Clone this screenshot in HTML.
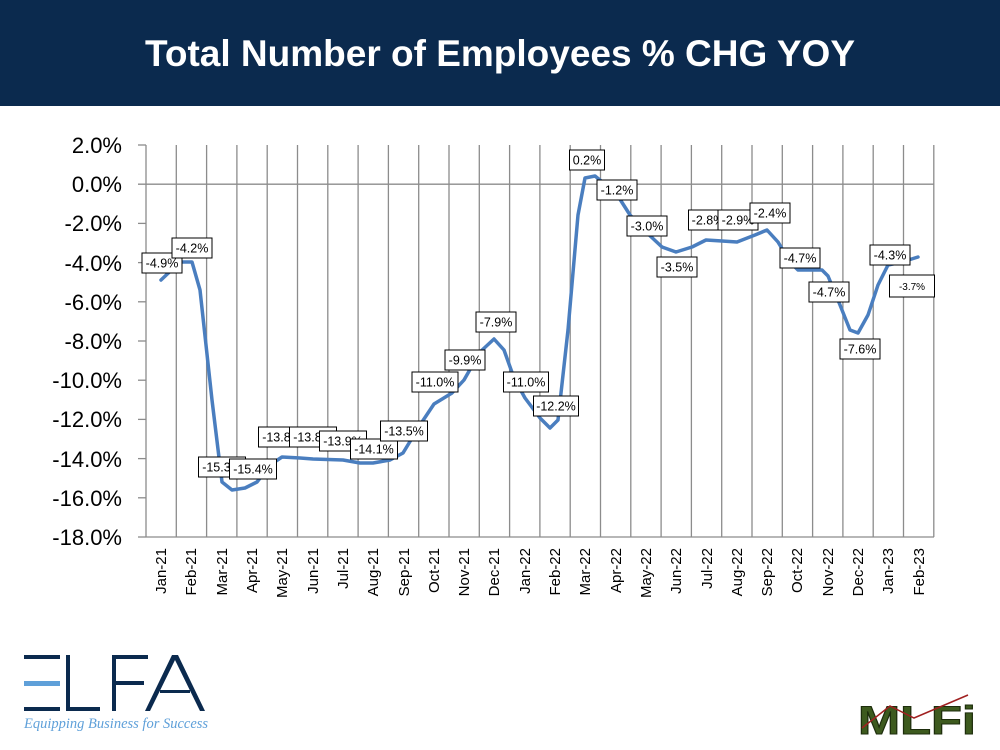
<!DOCTYPE html>
<html><head><meta charset="utf-8"><style>
html,body{margin:0;padding:0;background:#fff;}
svg{display:block;font-family:"Liberation Sans",sans-serif;}
</style></head><body>
<svg width="1000" height="750" viewBox="0 0 1000 750" xmlns="http://www.w3.org/2000/svg">
<rect x="0" y="0" width="1000" height="106" fill="#0b2a4e"/>
<text x="500" y="66" text-anchor="middle" fill="#fff" font-size="37" font-weight="bold">Total Number of Employees % CHG YOY</text>
<g stroke="#8c8c8c" stroke-width="1.3">
<line x1="146" y1="145" x2="146" y2="537"/>
<line x1="138" y1="184.2" x2="934" y2="184.2"/>
<line x1="146" y1="537" x2="934" y2="537"/>
<line x1="176.3" y1="145" x2="176.3" y2="537"/><line x1="206.6" y1="145" x2="206.6" y2="537"/><line x1="236.9" y1="145" x2="236.9" y2="537"/><line x1="267.2" y1="145" x2="267.2" y2="537"/><line x1="297.5" y1="145" x2="297.5" y2="537"/><line x1="327.8" y1="145" x2="327.8" y2="537"/><line x1="358.1" y1="145" x2="358.1" y2="537"/><line x1="388.4" y1="145" x2="388.4" y2="537"/><line x1="418.7" y1="145" x2="418.7" y2="537"/><line x1="449" y1="145" x2="449" y2="537"/><line x1="479.3" y1="145" x2="479.3" y2="537"/><line x1="509.6" y1="145" x2="509.6" y2="537"/><line x1="539.9" y1="145" x2="539.9" y2="537"/><line x1="570.2" y1="145" x2="570.2" y2="537"/><line x1="600.5" y1="145" x2="600.5" y2="537"/><line x1="630.8" y1="145" x2="630.8" y2="537"/><line x1="661.1" y1="145" x2="661.1" y2="537"/><line x1="691.4" y1="145" x2="691.4" y2="537"/><line x1="721.7" y1="145" x2="721.7" y2="537"/><line x1="752" y1="145" x2="752" y2="537"/><line x1="782.3" y1="145" x2="782.3" y2="537"/><line x1="812.6" y1="145" x2="812.6" y2="537"/><line x1="842.9" y1="145" x2="842.9" y2="537"/><line x1="873.2" y1="145" x2="873.2" y2="537"/><line x1="903.5" y1="145" x2="903.5" y2="537"/><line x1="933.8" y1="145" x2="933.8" y2="537"/>
<line x1="138" y1="145" x2="146" y2="145"/><line x1="138" y1="223.4" x2="146" y2="223.4"/><line x1="138" y1="262.6" x2="146" y2="262.6"/><line x1="138" y1="301.8" x2="146" y2="301.8"/><line x1="138" y1="341" x2="146" y2="341"/><line x1="138" y1="380.2" x2="146" y2="380.2"/><line x1="138" y1="419.4" x2="146" y2="419.4"/><line x1="138" y1="458.6" x2="146" y2="458.6"/><line x1="138" y1="497.8" x2="146" y2="497.8"/><line x1="138" y1="537" x2="146" y2="537"/>
</g>
<g font-size="22" text-anchor="end" fill="#000">
<text x="122" y="153">2.0%</text><text x="122" y="192">0.0%</text><text x="122" y="231">-2.0%</text><text x="122" y="271">-4.0%</text><text x="122" y="310">-6.0%</text><text x="122" y="349">-8.0%</text><text x="122" y="388">-10.0%</text><text x="122" y="427">-12.0%</text><text x="122" y="467">-14.0%</text><text x="122" y="506">-16.0%</text><text x="122" y="545">-18.0%</text>
</g>
<g font-size="15" text-anchor="end" fill="#000">
<text transform="translate(166,548) rotate(-90)">Jan-21</text>
<text transform="translate(196,548) rotate(-90)">Feb-21</text>
<text transform="translate(227,548) rotate(-90)">Mar-21</text>
<text transform="translate(257,548) rotate(-90)">Apr-21</text>
<text transform="translate(287,548) rotate(-90)">May-21</text>
<text transform="translate(318,548) rotate(-90)">Jun-21</text>
<text transform="translate(348,548) rotate(-90)">Jul-21</text>
<text transform="translate(378,548) rotate(-90)">Aug-21</text>
<text transform="translate(409,548) rotate(-90)">Sep-21</text>
<text transform="translate(439,548) rotate(-90)">Oct-21</text>
<text transform="translate(469,548) rotate(-90)">Nov-21</text>
<text transform="translate(499,548) rotate(-90)">Dec-21</text>
<text transform="translate(530,548) rotate(-90)">Jan-22</text>
<text transform="translate(560,548) rotate(-90)">Feb-22</text>
<text transform="translate(590,548) rotate(-90)">Mar-22</text>
<text transform="translate(621,548) rotate(-90)">Apr-22</text>
<text transform="translate(651,548) rotate(-90)">May-22</text>
<text transform="translate(681,548) rotate(-90)">Jun-22</text>
<text transform="translate(712,548) rotate(-90)">Jul-22</text>
<text transform="translate(742,548) rotate(-90)">Aug-22</text>
<text transform="translate(772,548) rotate(-90)">Sep-22</text>
<text transform="translate(802,548) rotate(-90)">Oct-22</text>
<text transform="translate(833,548) rotate(-90)">Nov-22</text>
<text transform="translate(863,548) rotate(-90)">Dec-22</text>
<text transform="translate(893,548) rotate(-90)">Jan-23</text>
<text transform="translate(924,548) rotate(-90)">Feb-23</text>
</g>
<polyline fill="none" stroke="#4a7ebf" stroke-width="3.5" stroke-linejoin="round" stroke-linecap="round" points="161,280 180,262 192,262 200,290 212,400 222,482 232,490 245,488 257,482 270,465 282,457 300,458 313,459 343,460 360,463 373,463 390,460 403,453 420,425 434,404 452,393 464,380 480,352 494,339 504,350 514,378 525,398 540,418 550,428 558,420 568,330 578,215 585,178 595,176 606,185 616,193 630,215 646,232 662,247 676,252 692,247 706,240 722,241 737,242 755,235 767,230 778,242 790,262 798,270 812,270 822,270 828,276 840,305 850,330 858,333 868,315 878,285 888,265 902,262 918,257"/>
<g font-size="12.5" text-anchor="middle" fill="#000">
<rect x="142" y="253" width="40" height="20" fill="#fff" stroke="#000"/><text x="162" y="267.5">-4.9%</text>
<rect x="172" y="238" width="40" height="20" fill="#fff" stroke="#000"/><text x="192" y="252.5">-4.2%</text>
<rect x="198.5" y="457" width="47" height="20" fill="#fff" stroke="#000"/><text x="222" y="471.5">-15.3%</text>
<rect x="229.5" y="459" width="47" height="20" fill="#fff" stroke="#000"/><text x="253" y="473.5">-15.4%</text>
<rect x="258.5" y="427" width="47" height="20" fill="#fff" stroke="#000"/><text x="282" y="441.5">-13.8%</text>
<rect x="289.5" y="427" width="47" height="20" fill="#fff" stroke="#000"/><text x="313" y="441.5">-13.8%</text>
<rect x="319.5" y="431" width="47" height="20" fill="#fff" stroke="#000"/><text x="343" y="445.5">-13.9%</text>
<rect x="350.5" y="439" width="47" height="20" fill="#fff" stroke="#000"/><text x="374" y="453.5">-14.1%</text>
<rect x="380.5" y="421" width="47" height="20" fill="#fff" stroke="#000"/><text x="404" y="435.5">-13.5%</text>
<rect x="412" y="372" width="46" height="20" fill="#fff" stroke="#000"/><text x="435" y="386.5">-11.0%</text>
<rect x="445" y="350" width="40" height="20" fill="#fff" stroke="#000"/><text x="465" y="364.5">-9.9%</text>
<rect x="476" y="312" width="40" height="20" fill="#fff" stroke="#000"/><text x="496" y="326.5">-7.9%</text>
<rect x="503.5" y="372" width="45" height="20" fill="#fff" stroke="#000"/><text x="526" y="386.5">-11.0%</text>
<rect x="533.5" y="396" width="45" height="20" fill="#fff" stroke="#000"/><text x="556" y="410.5">-12.2%</text>
<rect x="569.5" y="150" width="35" height="20" fill="#fff" stroke="#000"/><text x="587" y="164.5">0.2%</text>
<rect x="597" y="180" width="40" height="20" fill="#fff" stroke="#000"/><text x="617" y="194.5">-1.2%</text>
<rect x="627" y="216" width="40" height="20" fill="#fff" stroke="#000"/><text x="647" y="230.5">-3.0%</text>
<rect x="657" y="257" width="40" height="20" fill="#fff" stroke="#000"/><text x="677" y="271.5">-3.5%</text>
<rect x="688.5" y="210" width="39" height="20" fill="#fff" stroke="#000"/><text x="708" y="224.5">-2.8%</text>
<rect x="718" y="210" width="40" height="20" fill="#fff" stroke="#000"/><text x="738" y="224.5">-2.9%</text>
<rect x="750" y="203" width="40" height="20" fill="#fff" stroke="#000"/><text x="770" y="217.5">-2.4%</text>
<rect x="780" y="248" width="40" height="20" fill="#fff" stroke="#000"/><text x="800" y="262.5">-4.7%</text>
<rect x="809" y="282" width="40" height="20" fill="#fff" stroke="#000"/><text x="829" y="296.5">-4.7%</text>
<rect x="840" y="339" width="40" height="20" fill="#fff" stroke="#000"/><text x="860" y="353.5">-7.6%</text>
<rect x="870" y="245" width="40" height="20" fill="#fff" stroke="#000"/><text x="890" y="259.5">-4.3%</text>
<rect x="889.5" y="275" width="45" height="22" fill="#fff" stroke="#000"/><text x="912" y="290" font-size="10">-3.7%</text>
</g>
<g fill="#0b2a4e">
<rect x="24" y="655" width="36" height="4"/>
<rect x="24" y="681" width="36" height="5" fill="#5fa0d9"/>
<rect x="24" y="707" width="36" height="4"/>
<rect x="66" y="655" width="4" height="56"/>
<rect x="66" y="707" width="34" height="4"/>
<rect x="112" y="655" width="4" height="56"/>
<rect x="112" y="655" width="36" height="4"/>
<rect x="112" y="681" width="32" height="4"/>
<polygon points="172,655 178,655 205,711 200,711 175,660 150,711 145,711"/>
<rect x="160" y="690" width="30" height="3"/>
</g>
<text x="24" y="728" font-family="Liberation Serif,serif" font-style="italic" font-size="14.5" fill="#5fa0d9">Equipping Business for Success</text>
<text x="858" y="734" font-size="40" font-weight="bold" fill="#3d5a1e" stroke="#1d2d0c" stroke-width="1" textLength="118" lengthAdjust="spacingAndGlyphs">MLFi</text>
<polyline points="862,728 890,706 914,718 968,695" fill="none" stroke="#a02020" stroke-width="1.5"/>
</svg>
</body></html>
